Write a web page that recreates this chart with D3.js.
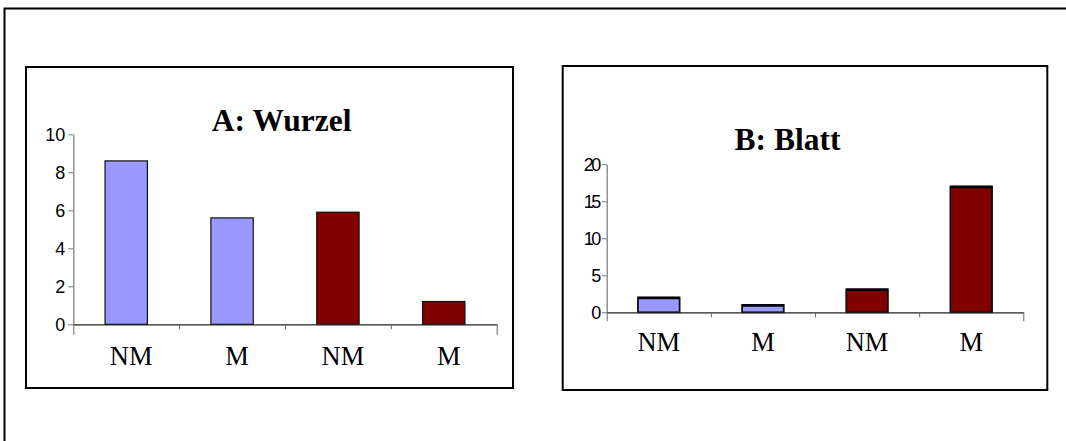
<!DOCTYPE html>
<html>
<head>
<meta charset="utf-8">
<script src="https://cdn.jsdelivr.net/npm/d3@7"></script>
<style>
  html, body { margin: 0; padding: 0; background: #fff; }
  svg { display: block; }
</style>
</head>
<body>
<svg id="chart" width="1066" height="441"></svg>
<script>
// Root (Wurzel) and leaf (Blatt) measurements, non-mycorrhizal vs. mycorrhizal
const categories = ["NM", "M", "NM", "M"];
const groupColors = ["#9999FF", "#9999FF", "#800000", "#800000"];
const wurzelValues = [8.6, 5.6, 5.9, 1.2];
const blattValues = [2, 1, 3.1, 17];
const wurzelTicks = [0, 2, 4, 6, 8, 10];
const blattTicks = [0, 5, 10, 15, 20];

const svg = d3.select("#chart");

// outer frame, running off the right and bottom edges
svg.append("path")
  .attr("d", "M4.5,441 L4.5,8.5 L1066,8.5")
  .attr("fill", "none").attr("stroke", "#000").attr("stroke-width", 2);

function panel(cfg) {
  const g = svg.append("g");
  g.append("rect")
    .attr("x", cfg.box[0]).attr("y", cfg.box[1])
    .attr("width", cfg.box[2]).attr("height", cfg.box[3])
    .attr("fill", "#fff").attr("stroke", "#000").attr("stroke-width", 2);

  const x = d3.scaleBand().domain(d3.range(categories.length))
    .range([cfg.x0, cfg.x1]).paddingInner(0.6).paddingOuter(0.3);
  const xb = d3.scaleLinear().domain([0, categories.length]).range([cfg.x0, cfg.x1]);
  const y = d3.scaleLinear().domain([0, d3.max(cfg.ticks)]).range([cfg.y0, cfg.y1]);

  // bars
  g.selectAll("rect.bar").data(cfg.values).join("rect")
    .attr("class", "bar")
    .attr("x", (d, i) => x(i)).attr("width", x.bandwidth())
    .attr("y", d => y(d)).attr("height", d => y(0) - y(d))
    .attr("fill", (d, i) => groupColors[i])
    .attr("stroke", "#111").attr("stroke-width", cfg.barStroke);
  if (cfg.topStroke) {
    g.selectAll("line.cap").data(cfg.values).join("line")
      .attr("class", "cap")
      .attr("x1", (d, i) => x(i)).attr("x2", (d, i) => x(i) + x.bandwidth())
      .attr("y1", d => y(d) + 0.5).attr("y2", d => y(d) + 0.5)
      .attr("stroke", "#000").attr("stroke-width", cfg.topStroke);
  }

  // y axis
  const ya = g.append("g").attr("transform", `translate(${cfg.x0},0)`)
    .call(d3.axisLeft(y).tickValues(cfg.ticks).tickSize(5).tickPadding(3).tickSizeOuter(0));
  ya.attr("font-size", null).attr("font-family", null);
  ya.select(".domain").attr("stroke", "#777").attr("stroke-width", 1.2);
  ya.selectAll(".tick line").attr("stroke", "#777");
  ya.selectAll(".tick text")
    .style("font-family", "'Liberation Sans', Arial, sans-serif")
    .style("font-size", "18px").attr("fill", "#000")
    .attr("letter-spacing", cfg.digitSpacing)
    .attr("dy", "0.36em");

  // x axis with category boundary ticks
  const xa = g.append("g").attr("transform", `translate(0,${cfg.y0})`)
    .call(d3.axisBottom(xb).tickValues(d3.range(categories.length + 1))
      .tickSize(5).tickFormat("").tickSizeOuter(0));
  xa.select(".domain").attr("stroke", "#222").attr("stroke-width", 1.2);
  xa.selectAll(".tick line")
    .attr("stroke", "#666")
    .attr("y2", (d) => (d === 0 || d === categories.length) ? cfg.endTick : 5);

  // category labels
  g.selectAll("text.cat").data(categories).join("text")
    .attr("class", "cat")
    .attr("x", (d, i) => x(i) + x.bandwidth() / 2 + cfg.labelShift)
    .attr("y", cfg.labelBase)
    .attr("text-anchor", "middle")
    .style("font-family", "'Liberation Serif', 'Times New Roman', serif")
    .style("font-size", "26.5px").attr("fill", "#000")
    .text(d => d);

  // title
  g.append("text")
    .attr("x", cfg.titleX).attr("y", cfg.titleY)
    .attr("text-anchor", "middle")
    .style("font-family", "'Liberation Serif', 'Times New Roman', serif")
    .style("font-weight", "bold").style("font-size", "31.5px").attr("fill", "#000")
    .text(cfg.title);
}

panel({
  box: [26, 67, 487, 321],
  x0: 73.3, x1: 496.7, y0: 324.3, y1: 134.3,
  values: wurzelValues, ticks: wurzelTicks,
  barStroke: 1.2, topStroke: 0, digitSpacing: 0,
  endTick: 10.5, labelShift: 5, labelBase: 365,
  title: "A: Wurzel", titleX: 281.7, titleY: 130.5
});

panel({
  box: [562.7, 66, 484.6, 324],
  x0: 606.7, x1: 1023.3, y0: 312.3, y1: 164.3,
  values: blattValues, ticks: blattTicks,
  barStroke: 1.8, topStroke: 2.5, digitSpacing: -2.5,
  endTick: 9, labelShift: 0, labelBase: 351,
  title: "B: Blatt", titleX: 787.5, titleY: 150
});
</script>
</body>
</html>
